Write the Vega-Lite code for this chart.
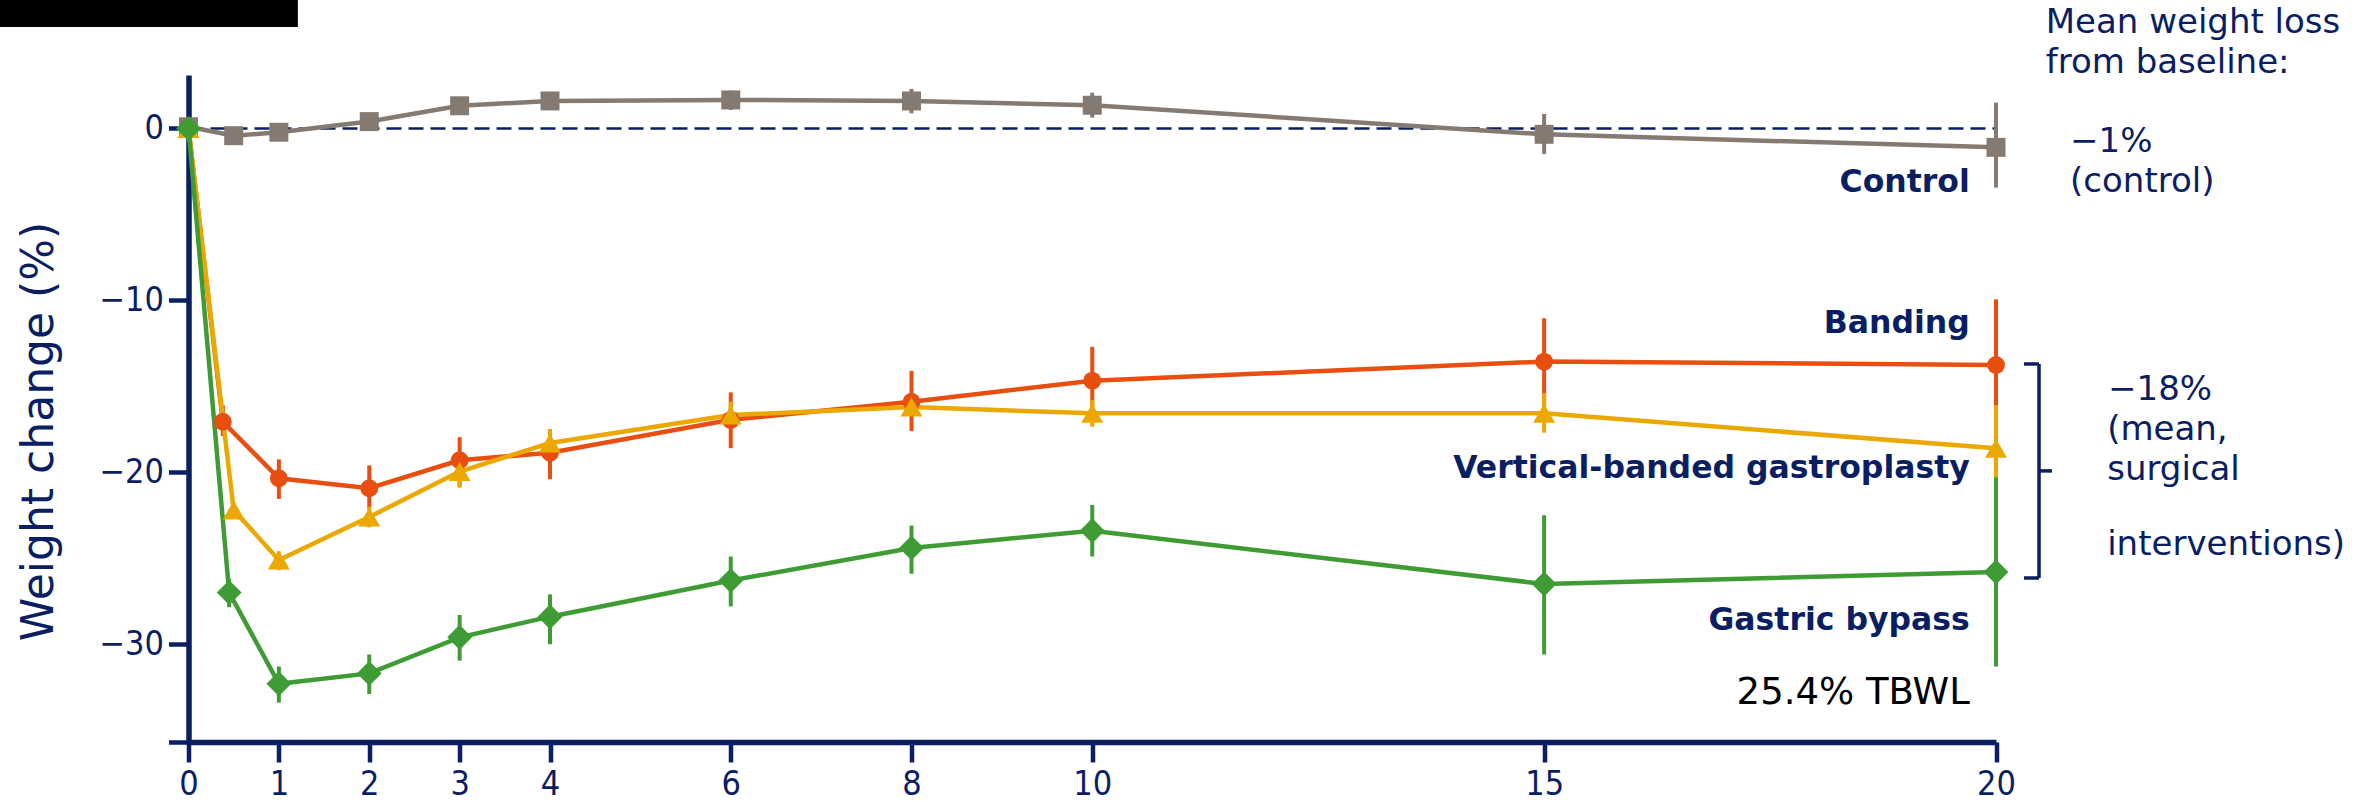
{
  "$schema": "https://vega.github.io/schema/vega-lite/v6.json",
  "width": 1807.5,
  "height": 667,
  "autosize": {"type": "none"},
  "padding": {"left": 188.5, "top": 75, "right": 378, "bottom": 60},
  "background": "white",
  "config": {
    "font": "DejaVu Sans",
    "view": {"stroke": null},
    "axisX": {"grid": false, "format": "d",
      "domainColor": "#0a1e62", "domainWidth": 5.5, "tickColor": "#0a1e62", "tickWidth": 4.5, "tickSize": 20,
      "labelFont": "DejaVu Sans Condensed, Noto Sans", "labelFontSize": 34, "labelColor": "#0a1e62", "labelPadding": 5,
      "labelFlush": false, "labelOverlap": false},
    "axisY": {"grid": false, "format": "d", "titleFont": "DejaVu Sans", "titleFontSize": 44,
      "titleFontWeight": "normal", "titleColor": "#0a1e62", "titleX": -136, "titleY": 356, "titleAngle": 270,
      "titleAlign": "center", "titleBaseline": "alphabetic",
      "domainColor": "#0a1e62", "domainWidth": 5.5, "tickColor": "#0a1e62", "tickWidth": 4.5, "tickSize": 20,
      "labelFont": "DejaVu Sans Condensed, Noto Sans", "labelFontSize": 34, "labelColor": "#0a1e62", "labelPadding": 5,
      "labelOverlap": false}
  },
  "datasets": {
    "series": [
      {"series": "Control", "x": 0, "y": 0.1, "lo": 0.1, "hi": 0.1},
      {"series": "Control", "x": 0.5, "y": -0.42, "lo": -0.72, "hi": -0.12},
      {"series": "Control", "x": 1, "y": -0.22, "lo": -0.52, "hi": 0.08},
      {"series": "Control", "x": 2, "y": 0.4, "lo": 0.1, "hi": 0.7},
      {"series": "Control", "x": 3, "y": 1.32, "lo": 0.82, "hi": 1.82},
      {"series": "Control", "x": 4, "y": 1.6, "lo": 1.1, "hi": 2.1},
      {"series": "Control", "x": 6, "y": 1.66, "lo": 1.08, "hi": 2.2},
      {"series": "Control", "x": 8, "y": 1.6, "lo": 0.88, "hi": 2.3},
      {"series": "Control", "x": 10, "y": 1.35, "lo": 0.63, "hi": 2.08},
      {"series": "Control", "x": 15, "y": -0.34, "lo": -1.48, "hi": 0.84},
      {"series": "Control", "x": 20, "y": -1.1, "lo": -3.44, "hi": 1.5},
      {"series": "Banding", "x": 0, "y": 0, "lo": 0, "hi": 0},
      {"series": "Banding", "x": 0.38, "y": -17.06, "lo": -17.9, "hi": -16.1},
      {"series": "Banding", "x": 1, "y": -20.35, "lo": -21.55, "hi": -19.25},
      {"series": "Banding", "x": 2, "y": -20.93, "lo": -22.1, "hi": -19.6},
      {"series": "Banding", "x": 3, "y": -19.3, "lo": -20.8, "hi": -17.96},
      {"series": "Banding", "x": 4, "y": -18.86, "lo": -20.4, "hi": -17.5},
      {"series": "Banding", "x": 6, "y": -16.95, "lo": -18.6, "hi": -15.35},
      {"series": "Banding", "x": 8, "y": -15.9, "lo": -17.6, "hi": -14.1},
      {"series": "Banding", "x": 10, "y": -14.67, "lo": -16.6, "hi": -12.7},
      {"series": "Banding", "x": 15, "y": -13.56, "lo": -16.1, "hi": -11.04},
      {"series": "Banding", "x": 20, "y": -13.76, "lo": -17.5, "hi": -9.94},
      {"series": "VBG", "x": 0, "y": 0, "lo": 0, "hi": 0},
      {"series": "VBG", "x": 0.5, "y": -22.2, "lo": -22.6, "hi": -21.8},
      {"series": "VBG", "x": 1, "y": -25.1, "lo": -25.7, "hi": -24.6},
      {"series": "VBG", "x": 2, "y": -22.6, "lo": -23.2, "hi": -22.0},
      {"series": "VBG", "x": 3, "y": -19.96, "lo": -20.9, "hi": -19.2},
      {"series": "VBG", "x": 4, "y": -18.3, "lo": -19.0, "hi": -17.5},
      {"series": "VBG", "x": 6, "y": -16.67, "lo": -17.15, "hi": -15.9},
      {"series": "VBG", "x": 8, "y": -16.2, "lo": -16.6, "hi": -15.8},
      {"series": "VBG", "x": 10, "y": -16.57, "lo": -17.35, "hi": -15.8},
      {"series": "VBG", "x": 15, "y": -16.57, "lo": -17.7, "hi": -15.4},
      {"series": "VBG", "x": 20, "y": -18.6, "lo": -20.45, "hi": -16.1},
      {"series": "Gastric bypass", "x": 0, "y": 0, "lo": 0, "hi": 0},
      {"series": "Gastric bypass", "x": 0.45, "y": -27.0, "lo": -27.85, "hi": -26.2},
      {"series": "Gastric bypass", "x": 1, "y": -32.3, "lo": -33.4, "hi": -31.3},
      {"series": "Gastric bypass", "x": 2, "y": -31.7, "lo": -32.9, "hi": -30.6},
      {"series": "Gastric bypass", "x": 3, "y": -29.6, "lo": -30.96, "hi": -28.3},
      {"series": "Gastric bypass", "x": 4, "y": -28.4, "lo": -30.0, "hi": -27.1},
      {"series": "Gastric bypass", "x": 6, "y": -26.3, "lo": -27.8, "hi": -24.9},
      {"series": "Gastric bypass", "x": 8, "y": -24.4, "lo": -25.9, "hi": -23.1},
      {"series": "Gastric bypass", "x": 10, "y": -23.4, "lo": -24.9, "hi": -21.9},
      {"series": "Gastric bypass", "x": 15, "y": -26.5, "lo": -30.6, "hi": -22.5},
      {"series": "Gastric bypass", "x": 20, "y": -25.8, "lo": -31.3, "hi": -20.3}
    ],
    "boldLabels": [
      {"x": 19.71, "y": -3.67, "text": "Control"},
      {"x": 19.71, "y": -11.92, "text": "Banding"},
      {"x": 19.71, "y": -20.35, "text": "Vertical-banded gastroplasty"},
      {"x": 19.71, "y": -29.2, "text": "Gastric bypass"}
    ],
    "sideText": [
      {"x": 20.55, "y": 5.54, "text": "Mean weight loss"},
      {"x": 20.55, "y": 3.21, "text": "from baseline:"},
      {"x": 20.82, "y": -1.35, "text": "−1%"},
      {"x": 20.82, "y": -3.67, "text": "(control)"},
      {"x": 21.24, "y": -15.8, "text": "−18%"},
      {"x": 21.23, "y": -18.12, "text": "(mean,"},
      {"x": 21.23, "y": -20.45, "text": "surgical"},
      {"x": 21.23, "y": -24.81, "text": "interventions)"}
    ],
    "bracket": [
      {"x": 20.476, "x2": 20.476, "y": -13.7, "y2": -26.15},
      {"x": 20.31, "x2": 20.476, "y": -13.7, "y2": -13.7},
      {"x": 20.31, "x2": 20.476, "y": -26.15, "y2": -26.15},
      {"x": 20.476, "x2": 20.62, "y": -19.92, "y2": -19.92}
    ]
  },
  "encoding": {
    "x": {"field": "x", "type": "quantitative", "title": null,
      "scale": {"domain": [0, 20], "nice": false, "zero": false},
      "axis": {"values": [0, 1, 2, 3, 4, 6, 8, 10, 15, 20], "title": null, "domainWidth": 5.5, "tickWidth": 4.5}},
    "y": {"field": "y", "type": "quantitative", "title": "Weight change (%)",
      "scale": {"domain": [-35.69, 3.11], "nice": false, "zero": false},
      "axis": {"values": [0, -10, -20, -30, -35.69], "labelExpr": "datum.value < -35 ? '' : datum.label", "title": "Weight change (%)", "domainWidth": 5.5, "tickWidth": 4.5}}
  },
  "layer": [
    {
      "data": {"values": [{"x": 0, "x2": 20, "y": 0}]},
      "mark": {"type": "rule", "color": "#0a1e62", "strokeWidth": 2.5, "strokeDash": [15, 7]},
      "encoding": {"x2": {"field": "x2"}}
    },
    {
      "data": {"name": "series"},
      "mark": {"type": "rule", "strokeWidth": 4},
      "encoding": {
        "y": {"field": "lo", "type": "quantitative", "title": "Weight change (%)",
          "scale": {"domain": [-35.69, 3.11], "nice": false, "zero": false},
          "axis": {"values": [0, -10, -20, -30, -35.69], "labelExpr": "datum.value < -35 ? '' : datum.label", "title": "Weight change (%)", "domainWidth": 5.5, "tickWidth": 4.5}},
        "y2": {"field": "hi"},
        "color": {"field": "series", "type": "nominal", "legend": null,
          "scale": {"domain": ["Control", "Banding", "VBG", "Gastric bypass"], "range": ["#857a71", "#e84e0f", "#eaa800", "#3f9c35"]}}
      }
    },
    {
      "data": {"name": "series"},
      "mark": {"type": "line", "strokeWidth": 4.5},
      "encoding": {
        "color": {"field": "series", "type": "nominal", "legend": null,
          "scale": {"domain": ["Control", "Banding", "VBG", "Gastric bypass"], "range": ["#857a71", "#e84e0f", "#eaa800", "#3f9c35"]}}
      }
    },
    {
      "data": {"name": "series"},
      "transform": [{"filter": "datum.series === 'Control'"}],
      "mark": {"type": "point", "filled": true, "opacity": 1, "shape": "square", "size": 360, "color": "#857a71"}
    },
    {
      "data": {"name": "series"},
      "transform": [{"filter": "datum.series === 'Banding'"}],
      "mark": {"type": "point", "filled": true, "opacity": 1, "shape": "circle", "size": 320, "color": "#e84e0f"}
    },
    {
      "data": {"name": "series"},
      "transform": [{"filter": "datum.series === 'VBG'"}],
      "mark": {"type": "point", "filled": true, "opacity": 1, "shape": "triangle-up", "size": 480, "color": "#eaa800"}
    },
    {
      "data": {"name": "series"},
      "transform": [{"filter": "datum.series === 'Gastric bypass'"}],
      "mark": {"type": "point", "filled": true, "opacity": 1, "shape": "diamond", "size": 620, "color": "#3f9c35"}
    },
    {
      "data": {"name": "bracket"},
      "mark": {"type": "rule", "color": "#0a1e62", "strokeWidth": 3.5},
      "encoding": {"x2": {"field": "x2"}, "y2": {"field": "y2"}}
    },
    {
      "data": {"name": "boldLabels"},
      "mark": {"type": "text", "align": "right", "baseline": "alphabetic", "font": "DejaVu Sans", "fontSize": 31.5, "fontWeight": "bold", "color": "#0a1e62"},
      "encoding": {"text": {"field": "text"}}
    },
    {
      "data": {"values": [{"x": 19.71, "y": -33.48, "text": "25.4% TBWL"}]},
      "mark": {"type": "text", "align": "right", "baseline": "alphabetic", "font": "DejaVu Sans", "fontSize": 37, "color": "#000000"},
      "encoding": {"text": {"field": "text"}}
    },
    {
      "data": {"name": "sideText"},
      "mark": {"type": "text", "align": "left", "baseline": "alphabetic", "font": "DejaVu Sans", "fontSize": 34, "color": "#0a1e62"},
      "encoding": {"text": {"field": "text"}}
    },
    {
      "data": {"values": [{"x": -2.1, "x2": 1.21, "y": 7.5, "y2": 5.9}]},
      "mark": {"type": "rect", "color": "#000000"},
      "encoding": {"x2": {"field": "x2"}, "y2": {"field": "y2"}}
    }
  ]
}
